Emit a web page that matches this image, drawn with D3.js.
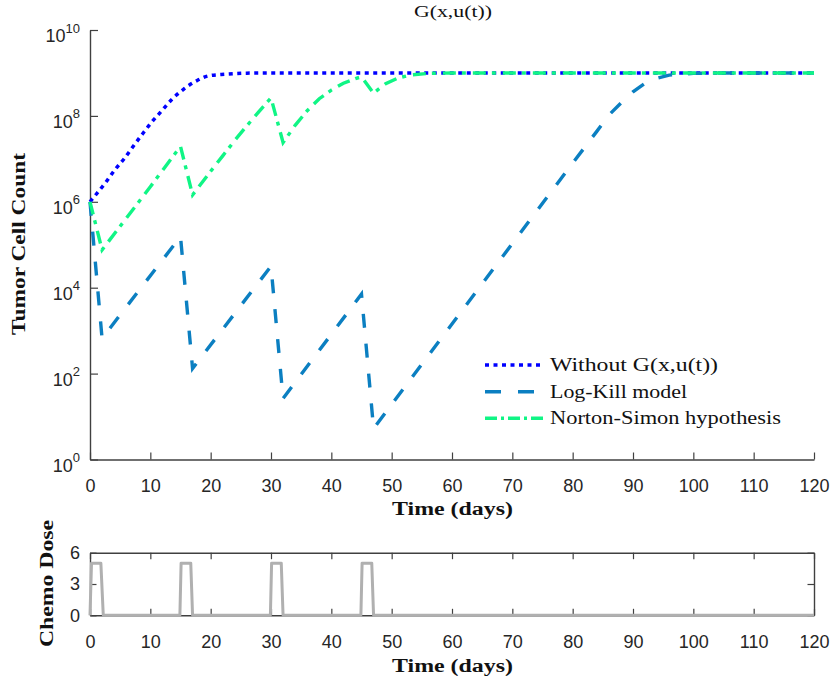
<!DOCTYPE html>
<html>
<head>
<meta charset="utf-8">
<script src="https://cdn.jsdelivr.net/npm/d3@7"></script>
<style>
  body { margin: 0; background: #fff; }
  svg { display: block; }
</style>
</head>
<body>
<div id="chart"></div>
<script>
// values: [day, log10(cell count)]
const withoutG = [[0, 6.0], [1, 6.17], [2.6, 6.45], [4.1, 6.74], [5.7, 7.01], [7.2, 7.30], [8.7, 7.58],
    [10.2, 7.85], [11.9, 8.12], [13.6, 8.39], [15.5, 8.62], [17.7, 8.82], [19.6, 8.93], [22.4, 8.97],
    [26, 8.995], [30, 9.0], [120, 9.0]];
const logKill = [[0, 6.0], [2, 2.82], [15, 5.19], [17, 2.12], [30, 4.50], [32, 1.42], [45, 3.85], [47, 0.72],
    [80, 6.9], [84, 7.64], [86, 8.02], [88, 8.30], [90, 8.56], [92, 8.76], [94, 8.88], [96, 8.95],
    [100, 8.99], [105, 9.0], [120, 9.0]];
const nortonSimon = [[0, 6.0], [2, 4.88], [5, 5.43], [10, 6.35], [15, 7.29], [17, 6.16], [20, 6.71],
    [22, 7.07], [24, 7.43], [26, 7.77], [28, 8.10], [30, 8.42], [32, 7.38], [34, 7.78], [36, 8.12],
    [38, 8.40], [40, 8.60], [42, 8.76], [44, 8.87], [45, 8.91], [47, 8.53], [49, 8.75], [51, 8.88],
    [53, 8.95], [56, 8.99], [60, 9.0], [120, 9.0]];

const doseDays = [0, 0.25, 1.8, 2.2, 14.9, 15.1, 16.7, 17, 29.9, 30.1, 31.7, 32, 44.9, 45.1, 46.7, 47, 120];
const doseValues = [0, 5, 5, 0, 0, 5, 5, 0, 0, 5, 5, 0, 0, 5, 5, 0, 0];

const xTicks = d3.range(0, 121, 10);
const yExpTicks = [0, 2, 4, 6, 8, 10];
const doseTicks = [0, 3, 6];
const legendLabels = ["Without G(x,u(t))", "Log-Kill model", "Norton-Simon hypothesis"];

const COLORS = {
    AXIS: "#404040",
    TICK_TEXT: "#262626",
    LABEL: "#111",
    WITHOUT: "#0000ff",
    LOGKILL: "#0b7fc1",
    NORTON: "#10f585",
    DOSE: "#b0b0b0"
};

const width = 831, height = 684;
const plotLeft = 90, plotRight = 814;
const mainTop = 30, mainBottom = 459.5;
const doseTop = 552.7, doseBottom = 615.3;

const svg = d3.select("#chart").append("svg")
    .attr("width", width)
    .attr("height", height);

const x = d3.scaleLinear().domain([0, 120]).range([plotLeft, plotRight]);
const y = d3.scaleLog().domain([1, 1e10]).range([mainBottom, mainTop]);
const yDose = d3.scaleLinear().domain([0, 6]).range([doseBottom, doseTop]);

function styleAxis(g) {
    g.select(".domain").attr("stroke", COLORS.AXIS).attr("stroke-width", 1.4);
    g.selectAll(".tick line").attr("stroke", COLORS.AXIS).attr("stroke-width", 1.2);
    g.selectAll(".tick text")
        .attr("fill", COLORS.TICK_TEXT)
        .style("font-family", "'Liberation Sans', Arial, sans-serif")
        .style("font-size", "18px");
}

function fitText(sel, w) {
    sel.attr("textLength", w).attr("lengthAdjust", "spacingAndGlyphs");
}

// ---------- main panel ----------
svg.append("g")
    .attr("transform", `translate(0,${mainBottom})`)
    .call(d3.axisBottom(x).tickValues(xTicks).tickSizeInner(-7).tickSizeOuter(0).tickPadding(20))
    .call(styleAxis);

const yAxisG = svg.append("g")
    .attr("transform", `translate(${plotLeft},0)`)
    .call(d3.axisLeft(y).tickValues(yExpTicks.map(e => Math.pow(10, e))).tickSizeInner(-8).tickSizeOuter(0).tickPadding(10))
    .call(styleAxis);

yAxisG.selectAll(".tick text").each(function(d) {
    const t = d3.select(this);
    const e = Math.round(Math.log10(d));
    t.text("").attr("dy", null).attr("y", 11.5);
    t.append("tspan").text("10");
    t.append("tspan").text(e).attr("dy", -9.5).style("font-size", "13px");
});

const line = d3.line()
    .x(d => x(d[0]))
    .y(d => y(Math.pow(10, d[1])));

svg.append("path")
    .datum(withoutG)
    .attr("fill", "none")
    .attr("stroke", COLORS.WITHOUT)
    .attr("stroke-width", 3.5)
    .attr("stroke-dasharray", "4,4.5")
    .attr("d", line.curve(d3.curveMonotoneX));

line.curve(d3.curveLinear);

svg.append("path")
    .datum(logKill)
    .attr("fill", "none")
    .attr("stroke", COLORS.LOGKILL)
    .attr("stroke-width", 3.4)
    .attr("stroke-dasharray", "14,16")
    .attr("d", line);

svg.append("path")
    .datum(nortonSimon)
    .attr("fill", "none")
    .attr("stroke", COLORS.NORTON)
    .attr("stroke-width", 3.4)
    .attr("stroke-dasharray", "13,6,4,7")
    .attr("d", line);

// title and labels
svg.append("text")
    .attr("x", 453).attr("y", 17)
    .attr("text-anchor", "middle")
    .style("font-family", "'Liberation Serif', serif")
    .style("font-size", "17px")
    .attr("fill", COLORS.LABEL)
    .text("G(x,u(t))")
    .call(fitText, 78);

svg.append("text")
    .attr("transform", "translate(24.5,244) rotate(-90)")
    .attr("text-anchor", "middle")
    .style("font-family", "'Liberation Serif', serif")
    .style("font-weight", "bold")
    .style("font-size", "18px")
    .attr("fill", COLORS.LABEL)
    .text("Tumor Cell Count")
    .call(fitText, 182);

svg.append("text")
    .attr("x", 452.5).attr("y", 515)
    .attr("text-anchor", "middle")
    .style("font-family", "'Liberation Serif', serif")
    .style("font-weight", "bold")
    .style("font-size", "18px")
    .attr("fill", COLORS.LABEL)
    .text("Time (days)")
    .call(fitText, 121);

// legend
const legendStyles = [
    {color: COLORS.WITHOUT, dash: "4,4.5"},
    {color: COLORS.LOGKILL, dash: "16,17"},
    {color: COLORS.NORTON, dash: "12,4,3,4"}
];
const legendRows = [365, 391.7, 418.3];
const legend = svg.append("g");
legendLabels.forEach((label, i) => {
    legend.append("line")
        .attr("x1", 485).attr("x2", 543)
        .attr("y1", legendRows[i]).attr("y2", legendRows[i])
        .attr("stroke", legendStyles[i].color)
        .attr("stroke-width", 3.4)
        .attr("stroke-dasharray", legendStyles[i].dash);
    legend.append("text")
        .attr("x", 550).attr("y", legendRows[i] + 6)
        .style("font-family", "'Liberation Serif', serif")
        .style("font-size", "18px")
        .attr("fill", "#111")
        .text(label)
        .call(fitText, [168, 137, 231][i]);
});

// ---------- dose panel ----------
svg.append("g")
    .attr("transform", `translate(0,${doseBottom})`)
    .call(d3.axisBottom(x).tickValues(xTicks).tickSizeInner(-6.5).tickSizeOuter(0).tickPadding(20))
    .call(styleAxis);

svg.append("g")
    .attr("transform", `translate(0,${doseTop})`)
    .call(d3.axisTop(x).tickValues(xTicks).tickSizeInner(-6.5).tickSizeOuter(0).tickFormat(""))
    .call(styleAxis);

svg.append("g")
    .attr("transform", `translate(${plotLeft},0)`)
    .call(d3.axisLeft(yDose).tickValues(doseTicks).tickFormat(d3.format("d")).tickSizeInner(-6.5).tickSizeOuter(0).tickPadding(10))
    .call(styleAxis);

svg.append("g")
    .attr("transform", `translate(${plotRight},0)`)
    .call(d3.axisRight(yDose).tickValues(doseTicks).tickSizeInner(-6.5).tickSizeOuter(0).tickFormat(""))
    .call(styleAxis);

const doseLine = d3.line()
    .x((d, i) => x(doseDays[i]))
    .y(d => yDose(d));

svg.append("path")
    .datum(doseValues)
    .attr("fill", "none")
    .attr("stroke", COLORS.DOSE)
    .attr("stroke-width", 3)
    .attr("stroke-linejoin", "round")
    .attr("d", doseLine);

svg.append("text")
    .attr("transform", "translate(52.5,583.5) rotate(-90)")
    .attr("text-anchor", "middle")
    .style("font-family", "'Liberation Serif', serif")
    .style("font-weight", "bold")
    .style("font-size", "18px")
    .attr("fill", COLORS.LABEL)
    .text("Chemo Dose")
    .call(fitText, 127);

svg.append("text")
    .attr("x", 452.5).attr("y", 671.5)
    .attr("text-anchor", "middle")
    .style("font-family", "'Liberation Serif', serif")
    .style("font-weight", "bold")
    .style("font-size", "18px")
    .attr("fill", COLORS.LABEL)
    .text("Time (days)")
    .call(fitText, 121);
</script>
</body>
</html>
